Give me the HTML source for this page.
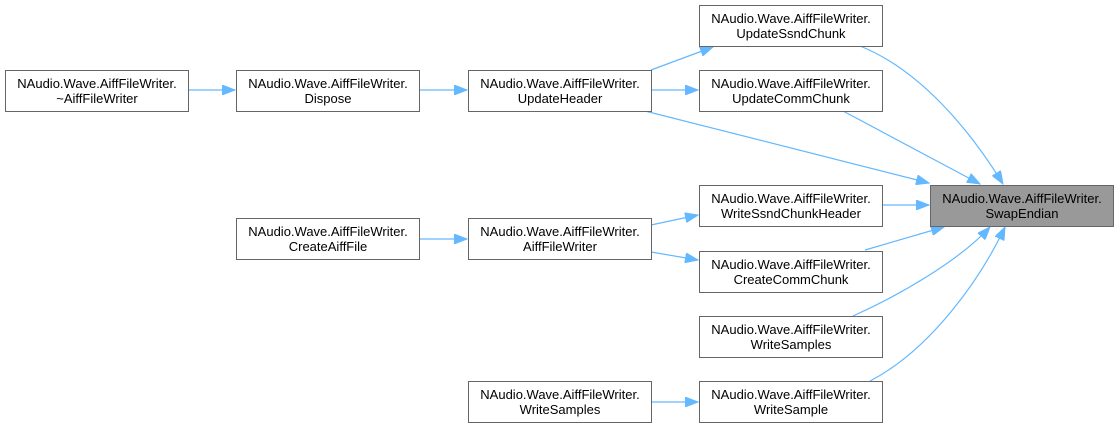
<!DOCTYPE html>
<html><head><style>
body{margin:0;background:#fff;width:1119px;height:427px;overflow:hidden}
.n{position:absolute;width:182px;height:39px;border:1px solid #666;background:#fff;font-family:"Liberation Sans",sans-serif;font-size:13px;line-height:15px;text-align:center;box-sizing:content-box;padding-top:1px;color:#000}
.n div{margin-top:4px}
</style></head><body>
<svg width="1119" height="427" style="position:absolute;left:0;top:0">
<defs><marker id="a" markerWidth="14" markerHeight="10" refX="13" refY="5" orient="auto" markerUnits="userSpaceOnUse"><path d="M0,0 L13,5 L0,10 z" fill="#63b8ff" stroke="#63b8ff"/></marker></defs>
<g stroke="#63b8ff" stroke-width="1.2" fill="none" marker-end="url(#a)">
<path d="M189,90 L235,90"/>
<path d="M420,90 L467,90"/>
<path d="M420,239 L467,239"/>
<path d="M651,70 L713,47"/>
<path d="M651,90 L698,90"/>
<path d="M645,111 L929,183"/>
<path d="M860,46 C920,70 970,130 1003,184"/>
<path d="M843,111 L980,184"/>
<path d="M883,205 L929,205"/>
<path d="M651,225 L698,215"/>
<path d="M651,252 L698,260"/>
<path d="M865,250 L944,227"/>
<path d="M853,316 C900,295 960,260 990,227"/>
<path d="M870,381 C930,350 980,280 1005,227"/>
<path d="M651,402 L698,402"/>
</g></svg>
<div class="n" style="left:5px;top:70px"><div>NAudio.Wave.AiffFileWriter.<br>~AiffFileWriter</div></div>
<div class="n" style="left:236px;top:70px"><div>NAudio.Wave.AiffFileWriter.<br>Dispose</div></div>
<div class="n" style="left:468px;top:70px"><div>NAudio.Wave.AiffFileWriter.<br>UpdateHeader</div></div>
<div class="n" style="left:699px;top:5px"><div>NAudio.Wave.AiffFileWriter.<br>UpdateSsndChunk</div></div>
<div class="n" style="left:699px;top:70px"><div>NAudio.Wave.AiffFileWriter.<br>UpdateCommChunk</div></div>
<div class="n" style="left:930px;top:185px;background:#999"><div>NAudio.Wave.AiffFileWriter.<br>SwapEndian</div></div>
<div class="n" style="left:699px;top:185px"><div>NAudio.Wave.AiffFileWriter.<br>WriteSsndChunkHeader</div></div>
<div class="n" style="left:236px;top:218px"><div>NAudio.Wave.AiffFileWriter.<br>CreateAiffFile</div></div>
<div class="n" style="left:468px;top:218px"><div>NAudio.Wave.AiffFileWriter.<br>AiffFileWriter</div></div>
<div class="n" style="left:699px;top:251px"><div>NAudio.Wave.AiffFileWriter.<br>CreateCommChunk</div></div>
<div class="n" style="left:699px;top:316px"><div>NAudio.Wave.AiffFileWriter.<br>WriteSamples</div></div>
<div class="n" style="left:468px;top:381px"><div>NAudio.Wave.AiffFileWriter.<br>WriteSamples</div></div>
<div class="n" style="left:699px;top:381px"><div>NAudio.Wave.AiffFileWriter.<br>WriteSample</div></div>
</body></html>
